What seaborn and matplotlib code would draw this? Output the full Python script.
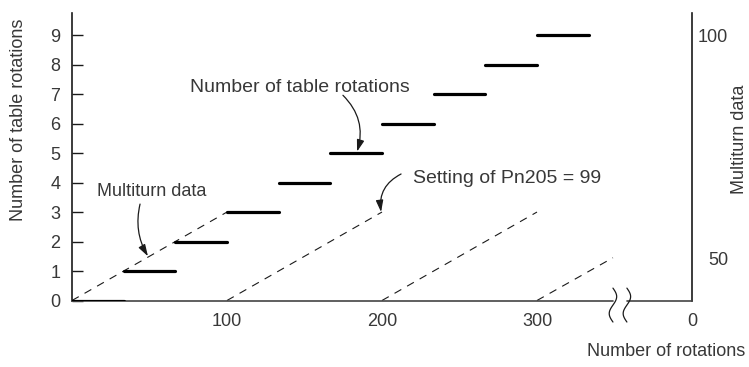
import numpy as np
import pandas as pd
import matplotlib
matplotlib.use("Agg")
import matplotlib.pyplot as plt
import seaborn as sns

# table rotations: one step per 1/3 of 100 motor rotations
table_levels = [0, 1, 2, 3, 4, 5, 6, 7, 8, 9]
step_start = [0, 33.3, 66.7, 100, 133.3, 166.7, 200, 233.3, 266.7, 300]
step_end = [33.3, 66.7, 100, 133.3, 166.7, 200, 233.3, 266.7, 300, 333.3]

# multiturn data ramps (drawn against the left scale)
ramp_x0 = [0, 100, 200, 300]
ramp_x1 = [100, 200, 300, 349]
ramp_y0 = [0, 0, 0, 0]
ramp_y1 = [3, 3, 3, 1.45]

x_ticks = [100, 200, 300, 400]
x_labels = ["100", "200", "300", "0"]
right_ticks = [1.42, 9]
right_labels = ["50", "100"]

sns.set_style("white")
plt.rcParams["font.family"] = ["Liberation Sans", "DejaVu Sans"]
txt = "#383838"
ink = "#1a1a1a"
fs = 13

steps = pd.DataFrame({
    "rot": step_start + step_end,
    "level": table_levels + table_levels,
    "seg": list(range(10)) * 2,
})
ramps = pd.DataFrame({
    "rot": ramp_x0 + ramp_x1,
    "val": ramp_y0 + ramp_y1,
    "seg": list(range(4)) * 2,
})

fig = plt.figure(figsize=(7.49, 3.67), dpi=100)
ax = fig.add_axes([72 / 749, 66.5 / 367, 620 / 749, 287.5 / 367])

sns.lineplot(data=ramps, x="rot", y="val", units="seg", estimator=None,
             sort=False, color=ink, lw=0.8, linestyle=(0, (7, 6)), ax=ax)
sns.lineplot(data=steps, x="rot", y="level", units="seg", estimator=None,
             sort=False, color="#000000", lw=2.3, ax=ax, zorder=5)

ax.set_xlim(0, 400)
ax.set_ylim(0, 9.75)
ax.set_xlabel("")
ax.set_ylabel("")

for s in ["top", "bottom"]:
    ax.spines[s].set_visible(False)
for s in ["left", "right"]:
    ax.spines[s].set_color(ink)
    ax.spines[s].set_linewidth(1.2)

# x axis drawn with a break
ax.plot([0, 349], [0, 0], color="#444444", lw=1.2, clip_on=False, zorder=3)
ax.plot([358, 400], [0, 0], color="#444444", lw=1.2, clip_on=False, zorder=3)
t = np.linspace(0, 1, 60)
for xb in [349, 358]:
    ax.plot(xb + 2.4 * np.sin(2 * np.pi * t), 0.42 - 1.15 * t,
            color=ink, lw=0.9, clip_on=False, zorder=4)

ax.set_yticks(table_levels)
ax.set_yticklabels([str(v) for v in table_levels])
ax.tick_params(axis="y", direction="in", length=8, width=1, color=ink,
               pad=8.5, labelsize=fs, labelcolor=txt, left=True)
ax.set_xticks(x_ticks)
ax.set_xticklabels(x_labels)
ax.tick_params(axis="x", length=0, pad=9, labelsize=fs, labelcolor=txt)

ax2 = ax.twinx()
ax2.set_ylim(ax.get_ylim())
ax2.set_yticks(right_ticks)
ax2.set_yticklabels(right_labels)
ax2.tick_params(axis="y", length=0, pad=26, labelsize=fs, labelcolor=txt)
for lab in ax2.get_yticklabels():
    lab.set_ha("right")
for s in ax2.spines.values():
    s.set_visible(False)

arrow = dict(arrowstyle="-|>,head_length=0.7,head_width=0.22",
             color=ink, lw=0.9, shrinkA=0, shrinkB=0, mutation_scale=10)

ax.text(147, 7.24, "Number of table rotations", ha="center", va="center",
        fontsize=14, color=txt)
ax.annotate("", xy=(183.9, 5.05), xytext=(174.8, 6.96),
            arrowprops=dict(arrow, connectionstyle="arc3,rad=-0.3"))

ax.text(16, 3.71, "Multiturn data", ha="left", va="center",
        fontsize=fs, color=txt)
ax.annotate("", xy=(49, 1.5), xytext=(43.9, 3.27),
            arrowprops=dict(arrow, connectionstyle="arc3,rad=0.2"))

ax.text(220, 4.15, "Setting of Pn205 = 99", ha="left", va="center",
        fontsize=14, color=txt)
ax.annotate("", xy=(199.4, 3.0), xytext=(212.3, 4.29),
            arrowprops=dict(arrow, connectionstyle="arc3,rad=0.35"))

fig.text(19 / 749, (367 - 120) / 367, "Number of table rotations",
         rotation=90, ha="center", va="center", fontsize=fs, color=txt)
fig.text(740 / 749, (367 - 139) / 367, "Multiturn data",
         rotation=90, ha="center", va="center", fontsize=fs, color=txt)
fig.text(745 / 749, (367 - 352) / 367, "Number of rotations",
         ha="right", va="center", fontsize=fs, color=txt)

fig.savefig("out.png", dpi=100)
